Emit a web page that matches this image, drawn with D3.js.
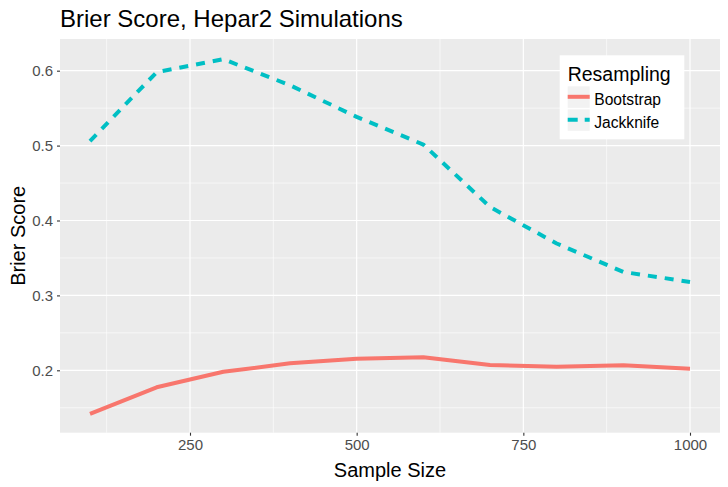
<!DOCTYPE html>
<html>
<head>
<meta charset="utf-8">
<script src="https://cdn.jsdelivr.net/npm/d3@7"></script>
<style>
  body { margin: 0; background: #fff; }
  svg { display: block; font-family: "Liberation Sans", Arial, sans-serif; }
</style>
</head>
<body>
<div id="chart"></div>
<script>
const sampleSizes = [100, 200, 300, 400, 500, 600, 700, 800, 900, 1000];
const bootstrap = [0.1417, 0.1773, 0.198, 0.2093, 0.2155, 0.2174, 0.207, 0.2048, 0.2066, 0.202];
const jackknife = [0.506, 0.598, 0.6153, 0.5806, 0.5383, 0.5014, 0.418, 0.3693, 0.3313, 0.318];
const seriesNames = ["Bootstrap", "Jackknife"];
const seriesColors = ["#F8766D", "#00BFC4"];
const xTicks = [250, 500, 750, 1000];
const xMinor = [125, 375, 625, 875];
const yTicks = [0.2, 0.3, 0.4, 0.5, 0.6];
const yMinor = [0.15, 0.25, 0.35, 0.45, 0.55];

const width = 728;
const height = 487;
const panel = { left: 60, right: 720, top: 39, bottom: 432.7 };

const svg = d3.select("#chart")
    .append("svg")
        .attr("width", width)
        .attr("height", height);

const x = d3.scaleLinear()
    .domain([55, 1045])
    .range([panel.left, panel.right]);

const y = d3.scaleLinear()
    .domain([0.1167, 0.6423])
    .range([panel.bottom, panel.top]);

// panel background
svg.append("rect")
    .attr("x", panel.left)
    .attr("y", panel.top)
    .attr("width", panel.right - panel.left)
    .attr("height", panel.bottom - panel.top)
    .attr("fill", "#EBEBEB");

// grid lines
svg.selectAll(".grid-x-minor")
    .data(xMinor)
    .join("line")
        .attr("x1", d => x(d)).attr("x2", d => x(d))
        .attr("y1", panel.top).attr("y2", panel.bottom)
        .attr("stroke", "#fff").attr("stroke-width", 0.6);

svg.selectAll(".grid-y-minor")
    .data(yMinor)
    .join("line")
        .attr("x1", panel.left).attr("x2", panel.right)
        .attr("y1", d => y(d)).attr("y2", d => y(d))
        .attr("stroke", "#fff").attr("stroke-width", 0.6);

svg.selectAll(".grid-x")
    .data(xTicks)
    .join("line")
        .attr("x1", d => x(d)).attr("x2", d => x(d))
        .attr("y1", panel.top).attr("y2", panel.bottom)
        .attr("stroke", "#fff").attr("stroke-width", 1.2);

svg.selectAll(".grid-y")
    .data(yTicks)
    .join("line")
        .attr("x1", panel.left).attr("x2", panel.right)
        .attr("y1", d => y(d)).attr("y2", d => y(d))
        .attr("stroke", "#fff").attr("stroke-width", 1.2);

// axes
const xAxis = svg.append("g")
    .attr("transform", `translate(0,${panel.bottom})`)
    .call(d3.axisBottom(x).tickValues(xTicks).tickSize(3).tickPadding(4).tickFormat(d3.format("d")));

const yAxis = svg.append("g")
    .attr("transform", `translate(${panel.left},0)`)
    .call(d3.axisLeft(y).tickValues(yTicks).tickSize(3).tickPadding(4).tickFormat(d3.format(".1f")));

[xAxis, yAxis].forEach(g => {
    g.select(".domain").remove();
    g.selectAll(".tick line").attr("stroke", "#333333").attr("stroke-width", 1.1);
    g.selectAll(".tick text")
        .attr("fill", "#4D4D4D")
        .style("font-size", "15px")
        .style("font-family", "'Liberation Sans', Arial, sans-serif");
});

// lines
const series = [bootstrap, jackknife];
const line = d3.line()
    .x((d, i) => x(sampleSizes[i]))
    .y(d => y(d));

svg.selectAll(".series")
    .data(series)
    .join("path")
        .attr("d", d => line(d))
        .attr("fill", "none")
        .attr("stroke", (d, i) => seriesColors[i])
        .attr("stroke-width", 4)
        .attr("stroke-linejoin", "round")
        .attr("stroke-dasharray", (d, i) => i === 1 ? "9,8" : null);

// titles
svg.append("text")
    .attr("x", panel.left)
    .attr("y", 27)
    .style("font-size", "24px")
    .attr("fill", "#000")
    .text("Brier Score, Hepar2 Simulations");

svg.append("text")
    .attr("x", (panel.left + panel.right) / 2)
    .attr("y", 476.5)
    .attr("text-anchor", "middle")
    .style("font-size", "20px")
    .attr("fill", "#000")
    .text("Sample Size");

svg.append("text")
    .attr("transform", `translate(24.5,${(panel.top + panel.bottom) / 2}) rotate(-90)`)
    .attr("text-anchor", "middle")
    .style("font-size", "20px")
    .attr("fill", "#000")
    .text("Brier Score");

// legend
const legend = svg.append("g");
legend.append("rect")
    .attr("x", 559.7).attr("y", 55.3)
    .attr("width", 124.6).attr("height", 84)
    .attr("fill", "#fff");

legend.append("text")
    .attr("x", 567.7).attr("y", 80.7)
    .style("font-size", "19.5px")
    .attr("fill", "#000")
    .text("Resampling");

const keyTop = 86.3;
const keyStep = 23;
const keys = legend.selectAll(".key")
    .data(seriesNames)
    .join("g")
        .attr("transform", (d, i) => `translate(567.7,${keyTop + keyStep * i})`);

keys.append("rect")
    .attr("width", 22).attr("height", 21.5)
    .attr("fill", "#F2F2F2");

keys.append("line")
    .attr("x1", 0).attr("x2", 22)
    .attr("y1", 10.5).attr("y2", 10.5)
    .attr("stroke", (d, i) => seriesColors[i])
    .attr("stroke-width", 4)
    .attr("stroke-dasharray", (d, i) => i === 1 ? "10,7" : null);

keys.append("text")
    .attr("x", 26.6).attr("y", 18.4)
    .style("font-size", "15.6px")
    .attr("fill", "#000")
    .text(d => d);
</script>
</body>
</html>
